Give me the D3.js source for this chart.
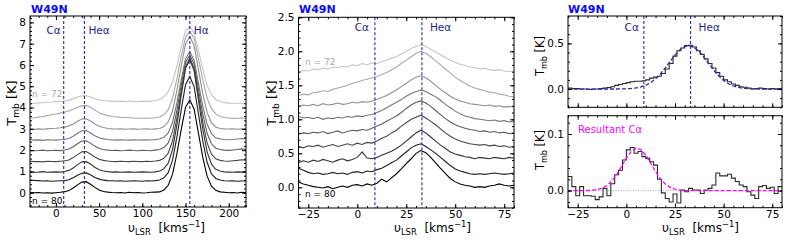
<!DOCTYPE html>
<html>
<head>
<meta charset="utf-8">
<script src="https://cdn.jsdelivr.net/npm/d3@7"></script>
<style>
  body { margin: 0; background: #fff; }
</style>
</head>
<body>
<div id="chart"></div>
<script>
const width = 789;
const height = 243;
const font = "DejaVu Sans, sans-serif";

// velocity grids (km/s)
const vel1 = d3.range(-30, 221, 5);
const vel2 = d3.range(-30, 80.1, 2.5);
const binEdges = d3.range(-30, 80.1, 2);
const fitVel = d3.range(-30, 80.1, 2.5);

// rest velocities of the lines
const lineVel = { C: 9, He: 33, H: 155 };

// tick labels
const xTicks1 = [0, 50, 100, 150, 200];
const yTicks1 = [0, 1, 2, 3, 4, 5, 6, 7, 8];
const xTicks2 = [-25, 0, 25, 50, 75];
const yTicks2 = [0, 0.5, 1, 1.5, 2, 2.5];
const yTicks3a = [0, 0.5];
const yTicks3b = [0, 0.1];

const nLabels = ["n = 80", "n = 72"];

// n = 80 (black) ... n = 72 (lightest)
const lineColors = ["#000000", "#1e1e1e", "#333333", "#474747", "#5e5e5e", "#767676", "#8f8f8f", "#a9a9a9", "#c6c6c6"];

// left panel spectra, -30..220 km/s
const spec1 = [
  [0.02,0.00,0.01,-0.01,0.00,-0.02,0.00,0.02,0.05,0.10, 0.22,0.37,0.50,0.52,0.40,0.25,0.13,0.06,0.03,0.01, 0.00,0.01,-0.01,0.02,0.00,0.01,-0.01,0.00,0.02,0.03, 0.04,0.13,0.35,0.87,1.83,2.96,4.01,4.36,3.92,2.79, 1.66,0.78,0.31,0.11,0.04,0.02,0.00,0.01,-0.01,0.02,0.00],
  [0.60,0.58,0.57,0.55,0.56,0.54,0.55,0.56,0.57,0.61, 0.70,0.82,0.91,0.93,0.84,0.72,0.64,0.59,0.57,0.56, 0.55,0.56,0.54,0.55,0.56,0.55,0.54,0.56,0.55,0.57, 0.60,0.70,0.94,1.53,2.61,3.89,5.07,5.46,4.97,3.69, 2.42,1.43,0.89,0.67,0.60,0.56,0.55,0.56,0.54,0.55,0.55],
  [0.98,0.96,0.97,0.99,0.96,0.97,0.98,0.97,1.00,1.05, 1.16,1.32,1.45,1.46,1.35,1.20,1.08,1.02,0.99,0.97, 0.98,0.96,0.97,0.98,0.96,0.97,0.98,0.97,0.96,0.98, 1.02,1.13,1.39,2.03,3.19,4.56,5.83,6.25,5.72,4.35, 2.98,1.92,1.34,1.10,1.02,0.98,0.97,0.96,0.98,0.97,0.97],
  [1.48,1.46,1.47,1.45,1.48,1.47,1.46,1.48,1.50,1.54, 1.65,1.79,1.92,1.93,1.82,1.68,1.57,1.52,1.49,1.47, 1.46,1.48,1.47,1.46,1.48,1.47,1.46,1.48,1.47,1.49, 1.52,1.62,1.86,2.44,3.51,4.77,5.93,6.32,5.84,4.57, 3.31,2.34,1.81,1.59,1.52,1.49,1.48,1.50,1.52,1.55,1.53],
  [1.99,1.97,1.98,2.00,1.97,1.98,1.99,1.98,2.01,2.05, 2.16,2.30,2.43,2.44,2.33,2.19,2.08,2.03,2.00,1.98, 1.99,1.97,1.98,2.00,1.98,1.97,1.99,1.98,1.97,2.00, 2.03,2.12,2.34,2.88,3.87,5.04,6.12,6.48,6.03,4.86, 3.69,2.79,2.30,2.09,2.03,2.00,1.99,2.01,2.03,2.06,2.04],
  [2.50,2.47,2.48,2.46,2.49,2.48,2.47,2.49,2.50,2.55, 2.65,2.79,2.91,2.92,2.82,2.68,2.58,2.53,2.50,2.48, 2.47,2.49,2.48,2.47,2.49,2.48,2.47,2.49,2.48,2.50, 2.52,2.60,2.81,3.31,4.22,5.30,6.30,6.63,6.22,5.14, 4.06,3.23,2.77,2.58,2.52,2.50,2.49,2.50,2.52,2.55,2.53],
  [2.99,2.98,3.00,2.98,3.00,3.02,3.03,3.05,3.08,3.13, 3.23,3.36,3.46,3.47,3.37,3.23,3.12,3.06,3.02,3.00, 2.99,3.00,2.98,2.99,3.00,2.98,2.99,3.00,2.98,3.00, 3.02,3.11,3.33,3.85,4.81,5.94,6.99,7.34,6.90,5.77, 4.64,3.76,3.29,3.09,3.02,3.00,2.99,3.00,2.98,3.00,2.99],
  [3.50,3.52,3.55,3.58,3.62,3.66,3.70,3.74,3.78,3.84, 3.92,4.01,4.08,4.10,4.02,3.88,3.76,3.68,3.62,3.58, 3.56,3.54,3.53,3.52,3.51,3.50,3.50,3.51,3.50,3.52, 3.56,3.66,3.90,4.45,5.35,6.40,7.30,7.58,7.25,6.30, 5.30,4.45,3.95,3.70,3.58,3.53,3.51,3.49,3.50,3.51,3.50],
  [4.18,4.20,4.22,4.23,4.25,4.26,4.28,4.29,4.31,4.35, 4.42,4.50,4.55,4.56,4.50,4.42,4.36,4.33,4.31,4.30, 4.29,4.30,4.28,4.31,4.29,4.28,4.30,4.29,4.30,4.33, 4.38,4.50,4.75,5.20,5.95,6.85,7.60,7.80,7.50,6.70, 5.80,5.05,4.60,4.38,4.28,4.23,4.21,4.20,4.20,4.19,4.20]
];

// middle panel spectra, -30..80 km/s
const spec2 = [
  [0.08,0.05,0.03,0.01,0.00,-0.01,0.01,-0.02,0.00,0.02, 0.00,0.03,0.04,0.02,0.05,0.03,0.06,0.12,0.08,0.14, 0.20,0.27,0.35,0.42,0.50,0.54,0.51,0.44,0.36,0.28, 0.20,0.13,0.08,0.05,0.03,0.02,0.00,0.01,0.00,0.02, 0.03,0.05,0.03,0.02,0.03],
  [0.28,0.25,0.22,0.20,0.21,0.19,0.20,0.22,0.20,0.21, 0.19,0.22,0.23,0.21,0.24,0.23,0.26,0.28,0.32,0.36, 0.40,0.46,0.52,0.58,0.62,0.64,0.60,0.55,0.50,0.44, 0.38,0.32,0.27,0.24,0.22,0.20,0.19,0.20,0.19,0.20, 0.21,0.20,0.19,0.20,0.21],
  [0.36,0.39,0.37,0.40,0.38,0.41,0.39,0.37,0.40,0.42, 0.39,0.41,0.44,0.52,0.43,0.42,0.44,0.47,0.50,0.53, 0.57,0.62,0.68,0.74,0.80,0.84,0.80,0.74,0.68,0.62, 0.57,0.52,0.49,0.47,0.45,0.44,0.42,0.44,0.43,0.42, 0.44,0.43,0.42,0.44,0.43],
  [0.60,0.58,0.61,0.60,0.62,0.59,0.61,0.63,0.60,0.62, 0.64,0.62,0.65,0.63,0.66,0.65,0.68,0.72,0.75,0.80, 0.84,0.90,0.95,1.00,1.03,1.06,1.02,0.97,0.92,0.86, 0.80,0.75,0.71,0.68,0.66,0.64,0.63,0.62,0.63,0.61, 0.62,0.60,0.61,0.59,0.60],
  [0.78,0.80,0.79,0.81,0.80,0.82,0.79,0.81,0.83,0.80, 0.82,0.84,0.83,0.85,0.84,0.87,0.90,0.93,0.97,1.01, 1.05,1.10,1.16,1.21,1.25,1.27,1.24,1.19,1.13,1.07, 1.01,0.96,0.92,0.89,0.87,0.85,0.84,0.82,0.83,0.81, 0.82,0.80,0.81,0.79,0.80],
  [1.04,1.02,1.03,1.01,1.03,1.00,1.02,1.01,1.03,1.02, 1.04,1.03,1.05,1.04,1.06,1.07,1.10,1.13,1.17,1.21, 1.25,1.29,1.34,1.38,1.41,1.43,1.41,1.37,1.33,1.28, 1.22,1.17,1.12,1.08,1.05,1.03,1.01,1.00,0.99,0.98, 0.99,0.97,0.98,0.96,0.97],
  [1.19,1.21,1.20,1.22,1.20,1.23,1.21,1.22,1.24,1.22, 1.23,1.25,1.24,1.26,1.25,1.27,1.29,1.32,1.35,1.39, 1.43,1.48,1.53,1.58,1.62,1.64,1.61,1.56,1.50,1.44, 1.39,1.34,1.30,1.27,1.25,1.23,1.22,1.21,1.20,1.21, 1.19,1.20,1.18,1.19,1.18],
  [1.35,1.37,1.36,1.39,1.40,1.42,1.41,1.44,1.46,1.48, 1.50,1.53,1.55,1.57,1.59,1.61,1.63,1.66,1.69,1.73, 1.77,1.82,1.87,1.92,1.97,2.00,1.97,1.92,1.86,1.80, 1.74,1.68,1.62,1.57,1.53,1.49,1.46,1.44,1.42,1.40, 1.39,1.37,1.36,1.34,1.33],
  [1.70,1.72,1.71,1.74,1.73,1.75,1.74,1.77,1.76,1.78, 1.77,1.80,1.79,1.82,1.80,1.83,1.82,1.85,1.87,1.90, 1.92,1.96,2.00,2.04,2.07,2.10,2.07,2.03,1.99,1.95, 1.91,1.87,1.84,1.81,1.79,1.77,1.76,1.74,1.75,1.73, 1.72,1.73,1.71,1.70,1.71]
];

// right panels: averaged spectrum (2 km/s channels) and He fit
const heSpec = [0.010,0.005,0.005,0.000,0.000,-0.005,0.000,0.000,0.005,0.010,
  0.015,0.025,0.040,0.050,0.060,0.070,0.080,0.085,0.085,0.090,
  0.100,0.120,0.130,0.140,0.170,0.220,0.280,0.360,0.420,0.450,
  0.475,0.480,0.460,0.420,0.380,0.330,0.280,0.230,0.180,0.140,
  0.100,0.080,0.055,0.040,0.025,0.020,0.010,0.000,0.005,0.010,
  0.005,0.000,0.005,0.000,0.005];
const heFit = [0,0,0,0,0,0,0,0,0,0.0002,
  0.0005,0.0015,0.003,0.006,0.012,0.024,0.042,0.071,0.112,0.166,
  0.231,0.303,0.372,0.429,0.466,0.474,0.454,0.409,0.345,0.274,
  0.204,0.143,0.094,0.058,0.034,0.018,0.009,0.005,0.002,0.001,
  0,0,0,0,0];
const residual = [0.025,0.007,-0.009,0.007,-0.009,-0.009,-0.010,-0.016,-0.011,0.004,
  -0.009,0.012,0.028,0.036,0.054,0.072,0.076,0.066,0.069,0.060,
  0.057,0.051,0.045,0.020,-0.004,-0.014,-0.020,-0.006,-0.022,0.001,
  -0.002,0.004,0.001,0.001,-0.005,0.001,0.004,0.010,0.031,0.026,
  0.026,0.029,0.022,0.016,0.010,0.007,-0.002,-0.008,-0.014,0.007,
  0.009,0.004,0.006,-0.005,0.007];
const cFit = [0,0,0,0,0.0002,0.0007,0.0018,0.0042,0.0089,0.0167,
  0.0281,0.0425,0.0573,0.0692,0.0748,0.0724,0.0626,0.0485,0.0336,0.0209,
  0.0116,0.0057,0.0026,0.001,0.0004,0,0,0,0,0,
  0,0,0,0,0,0,0,0,0,0,
  0,0,0,0,0];

const markColor = "#2b2ba6";
const markText = "#1e1e8f";

const svg = d3.select("#chart").append("svg")
  .attr("width", width)
  .attr("height", height)
  .attr("font-family", font);

function makePanel(p) {
  const x = d3.scaleLinear().domain(p.xDom).range([p.left, p.right]);
  const y = d3.scaleLinear().domain(p.yDom).range([p.bottom, p.top]);
  svg.append("clipPath").attr("id", "clip-" + p.name)
    .append("rect")
    .attr("x", p.left).attr("y", p.top)
    .attr("width", p.right - p.left).attr("height", p.bottom - p.top);
  const plot = svg.append("g").attr("clip-path", `url(#clip-${p.name})`);
  return { x, y, plot };
}

function drawAxes(p, x, y) {
  const sides = [
    [d3.axisBottom, x, `translate(0,${p.bottom})`, p.xTicks, p.xMinor, p.xFmt, 3],
    [d3.axisTop, x, `translate(0,${p.top})`, p.xTicks, p.xMinor, null, 0],
    [d3.axisLeft, y, `translate(${p.left},0)`, p.yTicks, p.yMinor, p.yFmt, 4],
    [d3.axisRight, y, `translate(${p.right},0)`, p.yTicks, p.yMinor, null, 0]
  ];
  sides.forEach(([axis, scale, tr, major, minor, fmt, pad]) => {
    svg.append("g").attr("transform", tr)
      .call(axis(scale).tickValues(minor).tickSize(-2).tickFormat(""))
      .call(g => g.select(".domain").remove());
    svg.append("g").attr("transform", tr)
      .call(axis(scale).tickValues(major).tickSize(-4).tickPadding(pad).tickFormat(fmt || (() => "")))
      .call(g => g.select(".domain").remove())
      .call(g => g.selectAll("text")
        .attr("font-family", font)
        .attr("font-size", 10.5)
        .attr("fill", "#000"));
  });
  svg.append("rect")
    .attr("x", p.left).attr("y", p.top)
    .attr("width", p.right - p.left).attr("height", p.bottom - p.top)
    .attr("fill", "none").attr("stroke", "#000").attr("stroke-width", 1);
}

function yLabel(cx, cy, size) {
  const t = svg.append("text")
    .attr("transform", `translate(${cx},${cy}) rotate(-90)`)
    .attr("text-anchor", "middle")
    .attr("font-size", size);
  t.append("tspan").text("T");
  t.append("tspan").attr("font-size", size * 0.7).attr("dy", size * 0.25).text("mb");
  t.append("tspan").attr("dy", -size * 0.25).text("\u00a0[K]");
}

function xLabel(x0, yb, size) {
  const t = svg.append("text").attr("x", x0).attr("y", yb).attr("font-size", size);
  t.append("tspan").text("\u03c5");
  t.append("tspan").attr("font-size", size * 0.7).attr("dy", size * 0.25).text("LSR");
  t.append("tspan").attr("dy", -size * 0.25).text("\u00a0\u00a0[kms");
  t.append("tspan").attr("font-size", size * 0.7).attr("dy", -size * 0.4).text("\u22121");
  t.append("tspan").attr("dy", size * 0.4).text("]");
}

function title(x0) {
  svg.append("text").attr("x", x0).attr("y", 13)
    .attr("font-size", 11).attr("font-weight", "bold")
    .attr("fill", "#0a0aff").text("W49N");
}

function markers(p, x, list) {
  list.forEach(m => {
    svg.append("line")
      .attr("x1", x(m.v)).attr("x2", x(m.v))
      .attr("y1", p.top).attr("y2", p.bottom)
      .attr("stroke", markColor).attr("stroke-width", 1.1)
      .attr("stroke-dasharray", "3,2");
    svg.append("text")
      .attr("x", x(m.v) + m.dx).attr("y", m.y)
      .attr("text-anchor", m.anchor)
      .attr("font-size", 10.5).attr("fill", markText)
      .text(m.label);
  });
}

// ---------- panel 1 ----------
const p1 = {
  name: "a", left: 30, right: 246, top: 16, bottom: 207,
  xDom: [-30, 220], yDom: [-0.67, 8.3],
  xTicks: xTicks1, xMinor: d3.range(-30, 221, 10),
  yTicks: yTicks1, yMinor: d3.range(-0.6, 8.31, 0.2),
  xFmt: d3.format("d"), yFmt: d3.format("d")
};
{
  const { x, y, plot } = makePanel(p1);
  const line = d3.line().x((d, i) => x(vel1[i])).y(d => y(d));
  for (let k = spec1.length - 1; k >= 0; k--) {
    plot.append("path").attr("d", line(spec1[k]))
      .attr("fill", "none").attr("stroke", lineColors[k]).attr("stroke-width", 1.1);
  }
  markers(p1, x, [
    { v: lineVel.C, label: "C\u03b1", anchor: "end", dx: -3, y: 34 },
    { v: lineVel.He, label: "He\u03b1", anchor: "start", dx: 4, y: 34 },
    { v: lineVel.H, label: "H\u03b1", anchor: "start", dx: 4, y: 34 }
  ]);
  svg.append("text").attr("x", 32).attr("y", 97).attr("font-size", 9)
    .attr("fill", "#a8a8a8").text(nLabels[1]);
  svg.append("text").attr("x", 32).attr("y", 204).attr("font-size", 9)
    .attr("fill", "#000").text(nLabels[0]);
  drawAxes(p1, x, y);
  yLabel(16, 103, 13);
  xLabel(128, 232, 12);
  title(31);
}

// ---------- panel 2 ----------
const p2 = {
  name: "b", left: 298.5, right: 514, top: 17.3, bottom: 208,
  xDom: [-30, 80], yDom: [-0.304, 2.5],
  xTicks: xTicks2, xMinor: d3.range(-30, 81, 5),
  yTicks: yTicks2, yMinor: d3.range(-0.3, 2.51, 0.1),
  xFmt: d3.format("d"), yFmt: d3.format(".1f")
};
{
  const { x, y, plot } = makePanel(p2);
  const line = d3.line().x((d, i) => x(vel2[i])).y(d => y(d));
  for (let k = spec2.length - 1; k >= 0; k--) {
    plot.append("path").attr("d", line(spec2[k]))
      .attr("fill", "none").attr("stroke", lineColors[k]).attr("stroke-width", 1.1);
  }
  markers(p2, x, [
    { v: lineVel.C, label: "C\u03b1", anchor: "end", dx: -6, y: 30.5 },
    { v: lineVel.He, label: "He\u03b1", anchor: "start", dx: 8, y: 30.5 }
  ]);
  svg.append("text").attr("x", 305).attr("y", 65).attr("font-size", 9)
    .attr("fill", "#a8a8a8").text(nLabels[1]);
  svg.append("text").attr("x", 305).attr("y", 197).attr("font-size", 9)
    .attr("fill", "#000").text(nLabels[0]);
  drawAxes(p2, x, y);
  yLabel(276, 103, 13);
  xLabel(394, 232, 12);
  title(299);
}

// ---------- panel 3 (top) ----------
const p3a = {
  name: "c", left: 568, right: 782, top: 16, bottom: 107.3,
  xDom: [-30, 80], yDom: [-0.2, 0.8],
  xTicks: xTicks2, xMinor: d3.range(-30, 81, 5),
  yTicks: yTicks3a, yMinor: d3.range(-0.2, 0.81, 0.1),
  xFmt: null, yFmt: d3.format(".1f")
};
const stepPts = vals => vals.map((v, i) => [binEdges[i], v]).concat([[binEdges[vals.length], vals[vals.length - 1]]]);
{
  const { x, y, plot } = makePanel(p3a);
  const step = d3.line().curve(d3.curveStepAfter).x(d => x(d[0])).y(d => y(d[1]));
  const fit = d3.line().x((d, i) => x(fitVel[i])).y(d => y(d));
  plot.append("path").attr("d", step(stepPts(heSpec)))
    .attr("fill", "none").attr("stroke", "#2a2a2a").attr("stroke-width", 1.1);
  plot.append("path").attr("d", fit(heFit))
    .attr("fill", "none").attr("stroke", "#2b2bb0").attr("stroke-width", 1.3)
    .attr("stroke-dasharray", "4,2");
  markers(p3a, x, [
    { v: lineVel.C, label: "C\u03b1", anchor: "end", dx: -5, y: 30.5 },
    { v: lineVel.He, label: "He\u03b1", anchor: "start", dx: 8, y: 30.5 }
  ]);
  drawAxes(p3a, x, y);
  yLabel(544, 56, 11.5);
  title(568);
}

// ---------- panel 3 (bottom) ----------
const p3b = {
  name: "d", left: 568, right: 782, top: 115.7, bottom: 207.7,
  xDom: [-30, 80], yDom: [-0.0302, 0.1323],
  xTicks: xTicks2, xMinor: d3.range(-30, 81, 5),
  yTicks: yTicks3b, yMinor: d3.range(-0.02, 0.131, 0.02),
  xFmt: d3.format("d"), yFmt: d3.format(".1f")
};
{
  const { x, y, plot } = makePanel(p3b);
  plot.append("line")
    .attr("x1", x(-30)).attr("x2", x(80)).attr("y1", y(0)).attr("y2", y(0))
    .attr("stroke", "#aaaaaa").attr("stroke-width", 1).attr("stroke-dasharray", "1,1.5");
  const step = d3.line().curve(d3.curveStepAfter).x(d => x(d[0])).y(d => y(d[1]));
  const fit = d3.line().x((d, i) => x(fitVel[i])).y(d => y(d));
  plot.append("path").attr("d", step(stepPts(residual)))
    .attr("fill", "none").attr("stroke", "#2a2a2a").attr("stroke-width", 1.1);
  plot.append("path").attr("d", fit(cFit))
    .attr("fill", "none").attr("stroke", "#ff00ff").attr("stroke-width", 1.3)
    .attr("stroke-dasharray", "4,2");
  svg.append("text").attr("x", 578).attr("y", 133).attr("font-size", 10)
    .attr("fill", "#ff00ff").text("Resultant C\u03b1");
  drawAxes(p3b, x, y);
  yLabel(544, 150, 11.5);
  xLabel(662, 232, 12);
}
</script>
</body>
</html>
